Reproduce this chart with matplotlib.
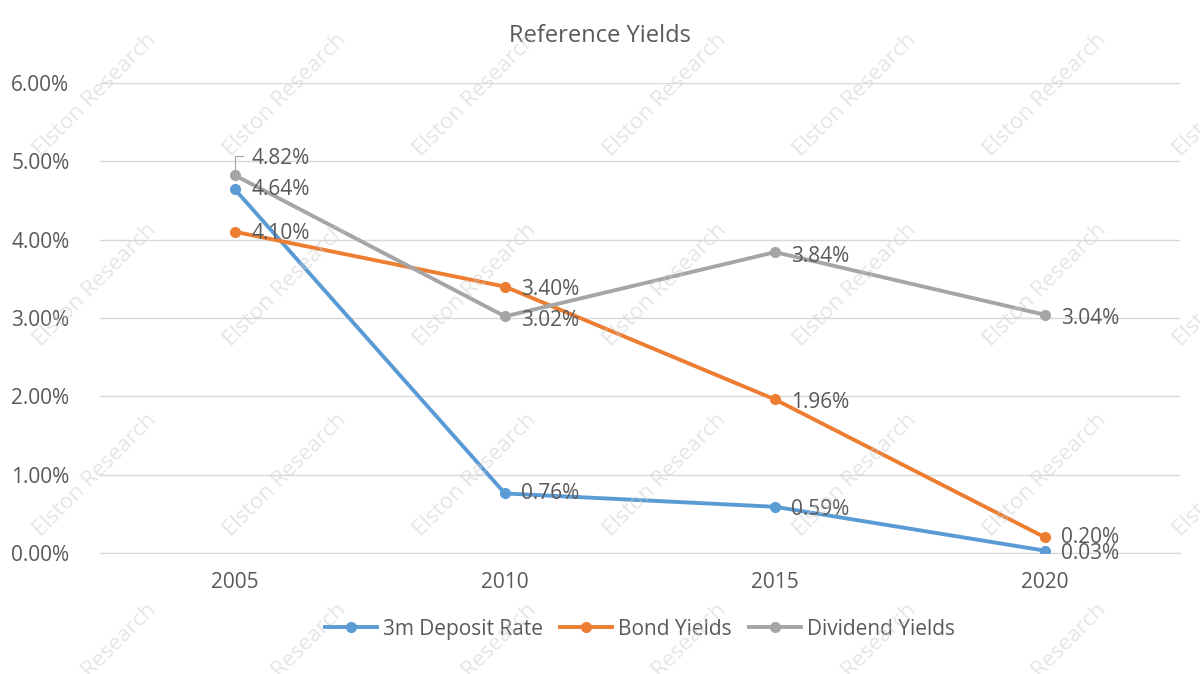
import matplotlib
matplotlib.use("Agg")
import matplotlib.pyplot as plt
from matplotlib.ticker import FuncFormatter

plt.rcParams['font.family'] = ['Open Sans', 'DejaVu Sans']

years = ["2005", "2010", "2015", "2020"]
deposit = [4.64, 0.76, 0.59, 0.03]
bonds = [4.10, 3.40, 1.96, 0.20]
dividend = [4.82, 3.02, 3.84, 3.04]

series = [
    ("3m Deposit Rate", deposit, "#5B9BD5"),
    ("Bond Yields", bonds, "#ED7D31"),
    ("Dividend Yields", dividend, "#A5A5A5"),
]

fig = plt.figure(figsize=(12, 6.74), dpi=100)
ax = fig.add_axes([0.0833, 0.1795, 0.9, 0.6975])
x = range(len(years))
for name, vals, col in series:
    ax.plot(x, vals, color=col, linewidth=2.8, marker="o", markersize=7, label=name, zorder=3)

# data labels
offsets = {
    "3m Deposit Rate": [(0.06, 0.0), (0.06, 0.0), (0.06, -0.03), (0.06, -0.03)],
    "Bond Yields": [(0.06, -0.02), (0.06, -0.04), (0.06, -0.04), (0.06, 0.0)],
    "Dividend Yields": [(0.06, 0.22), (0.06, -0.05), (0.06, -0.05), (0.06, -0.05)],
}
for name, vals, col in series:
    for i, v in enumerate(vals):
        dx, dy = offsets[name][i]
        ax.text(i + dx, v + dy, f"{v:.2f}%", color="#595959", fontsize=15,
                va="center", ha="left", zorder=4)
ax.plot([0, 0, 0.03], [4.9, 5.07, 5.07], color="#A5A5A5", linewidth=0.8)

ax.set_xlim(-0.5, 3.5)
ax.set_ylim(0, 6)
ax.set_yticks([0, 1, 2, 3, 4, 5, 6])
ax.yaxis.set_major_formatter(FuncFormatter(lambda v, p: f"{v:.2f}%"))
ax.set_xticks(list(x))
ax.set_xticklabels(years)
ax.tick_params(length=0, labelsize=15, labelcolor="#595959", pad=14)
ax.tick_params(axis="y", pad=22)
ax.grid(axis="y", color="#D9D9D9", linewidth=1)
ax.set_axisbelow(True)
for s in ["top", "right", "left"]:
    ax.spines[s].set_visible(False)
ax.spines["bottom"].set_color("#D9D9D9")

fig.suptitle("Reference Yields", y=0.965, fontsize=17, color="#595959")
ax.legend(loc="upper center", bbox_to_anchor=(0.5, -0.1), ncol=3, frameon=False,
          fontsize=15, labelcolor="#595959", handlelength=2.5, columnspacing=0.8,
          handletextpad=0.3)

# watermark
for wx in range(95, 1250, 190):
    for wy in range(95, 760, 190):
        fig.text(wx / 1200, 1 - wy / 674, "Elston Research", rotation=45,
                 fontsize=16, color="#CCCCCC", alpha=0.5, ha="center", va="center", zorder=10)

fig.savefig("out.png", dpi=100)
